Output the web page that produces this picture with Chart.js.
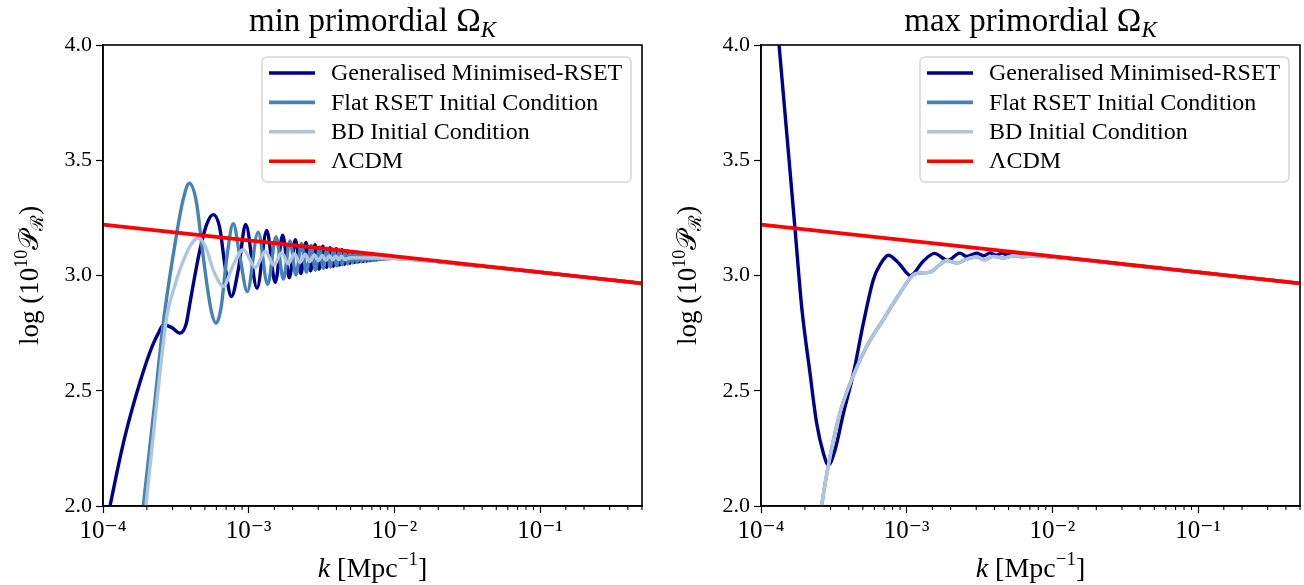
<!DOCTYPE html>
<html>
<head>
<meta charset="utf-8">
<script src="https://cdn.jsdelivr.net/npm/chart.js@4.4.1/dist/chart.umd.min.js"></script>
<style>
  body { margin: 0; background: #fff; }
  .painel { position: absolute; top: 0; width: 652px; height: 585px; }
</style>
</head>
<body>
<div class="painel" style="left:0"><canvas id="graficoMin"></canvas></div>
<div class="painel" style="left:652px"><canvas id="graficoMax"></canvas></div>
<script>
// eixos
const kMin = 1e-4, kMax = 0.5;
const yMin = 2.0, yMax = 4.0, yPasso = 0.5;

const nomes = ['Generalised Minimised-RSET', 'Flat RSET Initial Condition', 'BD Initial Condition', 'ΛCDM'];
const cores = ['#00008b', '#4682b4', '#b0c4de', '#ff0000'];

// LCDM (igual nos dois paineis)
const lcdmK = [1e-4, 0.5];
const lcdmP = [3.221, 2.966];

// painel "min primordial"
const minGmrK = [1.0e-4, 1.117e-4, 1.25e-4, 1.40e-4, 1.60e-4, 1.80e-4, 2.00e-4, 2.20e-4, 2.40e-4, 2.60e-4,
  2.95e-4, 3.37e-4, 3.72e-4, 3.95e-4, 4.27e-4, 4.63e-4, 5.13e-4, 5.71e-4, 6.31e-4, 6.92e-4, 7.60e-4, 8.51e-4, 9.53e-4,
  1.14e-3, 1.33e-3, 1.52e-3, 1.71e-3, 1.90e-3, 2.09e-3, 2.28e-3, 2.47e-3, 2.66e-3, 2.85e-3, 3.04e-3,
  3.23e-3, 3.42e-3, 3.61e-3, 3.80e-3, 3.99e-3, 4.18e-3, 4.37e-3, 4.56e-3, 4.75e-3, 4.94e-3, 5.13e-3,
  5.32e-3, 5.51e-3, 5.70e-3, 5.89e-3, 6.08e-3, 6.27e-3, 6.46e-3, 6.65e-3, 6.84e-3, 7.03e-3, 7.22e-3,
  7.41e-3, 7.60e-3, 7.79e-3, 7.98e-3, 8.17e-3, 8.36e-3, 8.55e-3, 8.74e-3, 8.93e-3, 9.12e-3,
  1.0e-2, 1.5e-2, 2.0e-2, 3.0e-2, 5.0e-2, 1.0e-1, 2.0e-1, 5.0e-1];
const minGmrP = [1.84, 2.00, 2.15, 2.29, 2.43, 2.54, 2.63, 2.70, 2.75, 2.785,
  2.775, 2.75, 2.79, 2.88, 3.00, 3.112, 3.22, 3.264, 3.21, 3.03, 2.909, 3.03, 3.222,
  2.945, 3.195, 2.970, 3.175, 2.990, 3.155, 3.008, 3.143, 3.020, 3.134, 3.028,
  3.127, 3.035, 3.121, 3.040, 3.116, 3.045, 3.112, 3.049, 3.108, 3.053, 3.104,
  3.056, 3.100, 3.059, 3.097, 3.061, 3.094, 3.063, 3.092, 3.065, 3.090, 3.067,
  3.088, 3.068, 3.086, 3.070, 3.085, 3.071, 3.083, 3.072, 3.081, 3.073,
  3.076, 3.068, 3.061, 3.048, 3.034, 3.014, 2.993, 2.966];

const minFlatK = [1.78e-4, 1.89e-4, 2.24e-4, 2.59e-4, 3.21e-4, 3.55e-4, 3.91e-4, 4.37e-4, 4.79e-4, 5.15e-4,
  5.56e-4, 5.97e-4, 6.46e-4, 7.08e-4, 7.83e-4, 8.71e-4, 9.77e-4,
  1.16e-3, 1.35e-3, 1.54e-3, 1.73e-3, 1.92e-3, 2.11e-3, 2.30e-3, 2.49e-3, 2.68e-3, 2.87e-3, 3.06e-3,
  3.25e-3, 3.44e-3, 3.63e-3, 3.82e-3, 4.01e-3, 4.20e-3, 4.39e-3, 4.58e-3, 4.77e-3, 4.96e-3, 5.15e-3,
  5.34e-3, 5.53e-3, 5.72e-3, 5.91e-3, 6.10e-3, 6.29e-3, 6.48e-3, 6.67e-3, 6.86e-3, 7.05e-3, 7.24e-3,
  7.43e-3, 7.62e-3, 7.81e-3, 8.00e-3, 8.19e-3, 8.38e-3, 8.57e-3, 8.76e-3, 8.95e-3, 9.14e-3,
  1.0e-2, 1.5e-2, 2.0e-2, 3.0e-2, 5.0e-2, 1.0e-1, 2.0e-1, 5.0e-1];
const minFlatP = [1.84, 2.00, 2.42, 2.793, 3.184, 3.33, 3.40, 3.32, 3.12, 2.967,
  2.84, 2.793, 2.86, 3.08, 3.225, 3.08, 2.93,
  3.188, 2.962, 3.168, 2.985, 3.150, 3.002, 3.139, 3.014, 3.130, 3.024, 3.124,
  3.031, 3.118, 3.037, 3.114, 3.042, 3.110, 3.046, 3.106, 3.050, 3.102, 3.054,
  3.099, 3.057, 3.096, 3.060, 3.093, 3.062, 3.091, 3.064, 3.089, 3.066, 3.087,
  3.067, 3.085, 3.069, 3.084, 3.070, 3.082, 3.071, 3.080, 3.072, 3.079,
  3.075, 3.067, 3.061, 3.048, 3.034, 3.014, 2.993, 2.966];

const minBdK = [1.86e-4, 1.97e-4, 2.34e-4, 2.74e-4, 3.09e-4, 3.37e-4, 3.98e-4, 4.51e-4, 5.01e-4, 5.75e-4,
  6.70e-4, 7.76e-4, 9.18e-4,
  1.11e-3, 1.30e-3, 1.49e-3, 1.68e-3, 1.87e-3, 2.06e-3, 2.25e-3, 2.44e-3, 2.63e-3, 2.82e-3,
  3.01e-3, 3.20e-3, 3.39e-3, 3.58e-3, 3.77e-3, 3.96e-3, 4.15e-3, 4.34e-3, 4.53e-3,
  5.0e-3, 7.0e-3,
  1.0e-2, 1.5e-2, 2.0e-2, 3.0e-2, 5.0e-2, 1.0e-1, 2.0e-1, 5.0e-1];
const minBdP = [1.85, 2.00, 2.45, 2.822, 2.95, 3.025, 3.13, 3.163, 3.13, 3.02,
  2.953, 3.04, 3.112,
  3.035, 3.104, 3.045, 3.098, 3.052, 3.094, 3.057, 3.091, 3.061, 3.089,
  3.064, 3.087, 3.066, 3.086, 3.068, 3.085, 3.069, 3.084, 3.070,
  3.077, 3.076,
  3.074, 3.067, 3.061, 3.048, 3.034, 3.014, 2.993, 2.966];

// painel "max primordial"
const maxGmrK = [1.0e-4, 1.33e-4, 1.51e-4, 1.71e-4, 1.90e-4, 2.17e-4, 2.41e-4, 2.68e-4, 2.90e-4, 3.22e-4,
  3.67e-4, 4.31e-4, 5.04e-4, 5.90e-4, 6.61e-4, 7.48e-4, 8.91e-4,
  1.06e-3, 1.29e-3, 1.55e-3, 1.91e-3, 2.32e-3, 2.58e-3, 3.02e-3, 3.38e-3, 3.73e-3, 4.10e-3, 4.50e-3,
  4.90e-3, 5.30e-3, 6.50e-3,
  1.0e-2, 1.5e-2, 2.0e-2, 3.0e-2, 5.0e-2, 1.0e-1, 2.0e-1, 5.0e-1];
const maxGmrP = [4.9, 4.0, 3.60, 3.206, 2.866, 2.576, 2.359, 2.229, 2.178, 2.243,
  2.40, 2.576, 2.793, 2.982, 3.05, 3.088, 3.05,
  3.0, 3.06, 3.096, 3.066, 3.097, 3.083, 3.097, 3.086, 3.098, 3.088, 3.097,
  3.089, 3.096, 3.091,
  3.080, 3.070, 3.062, 3.049, 3.034, 3.014, 2.993, 2.966];

const maxBdK = [2.40e-4, 2.61e-4, 2.98e-4, 3.47e-4, 4.08e-4, 5.31e-4, 6.90e-4, 8.99e-4, 1.11e-3, 1.23e-3,
  1.45e-3, 1.69e-3, 1.88e-3, 2.20e-3, 2.58e-3, 3.02e-3, 3.44e-3, 3.93e-3, 4.60e-3, 5.40e-3,
  6.30e-3, 7.60e-3,
  1.0e-2, 1.5e-2, 2.0e-2, 3.0e-2, 5.0e-2, 1.0e-1, 2.0e-1, 5.0e-1];
const maxBdP = [1.78, 2.00, 2.214, 2.40, 2.53, 2.692, 2.808, 2.924, 3.003, 3.011,
  3.015, 3.047, 3.065, 3.054, 3.071, 3.080, 3.068, 3.083, 3.076, 3.086,
  3.081, 3.085,
  3.080, 3.070, 3.062, 3.049, 3.034, 3.014, 2.993, 2.966];

// a curva Flat fica por baixo da BD no painel max
const maxFlatK = maxBdK.slice();
const maxFlatP = maxBdP.slice();

const serif = '"Liberation Serif", "DejaVu Serif", serif';
const sup = {'-': '⁻', '0': '⁰', '1': '¹', '2': '²', '3': '³', '4': '⁴', '5': '⁵'};

function pontos(ks, ps) {
  return ks.map((k, i) => ({ x: k, y: ps[i] }));
}

function ehDecada(v) {
  const l = Math.log10(v);
  return Math.abs(l - Math.round(l)) < 1e-6;
}

// texto com pedacos de fontes diferentes (expoentes, indices)
function larguraTrechos(ctx, trechos) {
  let w = 0;
  trechos.forEach(t => { ctx.font = t.f; w += ctx.measureText(t.t).width; });
  return w;
}
function desenhaTrechos(ctx, trechos, x, y) {
  trechos.forEach(t => {
    ctx.font = t.f;
    ctx.fillText(t.t, x, y + (t.dy || 0));
    x += ctx.measureText(t.t).width;
  });
}

function pluginPainel(titulo) {
  return {
    id: 'extras',
    afterDraw(chart) {
      const ctx = chart.ctx;
      const a = chart.chartArea;
      const sx = chart.scales.x;
      ctx.save();

      // ticks menores do eixo log
      ctx.strokeStyle = '#000';
      ctx.lineWidth = 1.1;
      sx.ticks.forEach((t, i) => {
        if (ehDecada(t.value)) return;
        const px = sx.getPixelForTick(i);
        ctx.beginPath();
        ctx.moveTo(px, a.bottom);
        ctx.lineTo(px, a.bottom + 4);
        ctx.stroke();
      });

      // moldura
      ctx.lineWidth = 1.6;
      ctx.strokeRect(a.left, a.top, a.right - a.left, a.bottom - a.top);

      // legenda
      const lw = 369, lh = 125;
      const lx = a.right - 11 - lw, ly = a.top + 12;
      ctx.beginPath();
      ctx.roundRect(lx, ly, lw, lh, 5);
      ctx.fillStyle = 'rgba(255,255,255,0.8)';
      ctx.fill();
      ctx.strokeStyle = 'rgba(204,204,204,0.8)';
      ctx.lineWidth = 1.5;
      ctx.stroke();
      ctx.textBaseline = 'middle';
      ctx.textAlign = 'left';
      nomes.forEach((nome, i) => {
        const y = ly + 16 + i * 29.4;
        ctx.strokeStyle = cores[i];
        ctx.lineWidth = 3.6;
        ctx.beginPath();
        ctx.moveTo(lx + 7, y);
        ctx.lineTo(lx + 53, y);
        ctx.stroke();
        ctx.fillStyle = '#000';
        ctx.font = '24px ' + serif;
        ctx.fillText(nome, lx + 69, y + 1);
      });

      // titulos
      ctx.fillStyle = '#000';
      ctx.textBaseline = 'alphabetic';
      const cx = (a.left + a.right) / 2;
      const tTitulo = [
        { t: titulo + ' Ω', f: '33px ' + serif },
        { t: 'K', f: 'italic 23px ' + serif, dy: 6 }
      ];
      desenhaTrechos(ctx, tTitulo, cx - larguraTrechos(ctx, tTitulo) / 2, 31);

      const tX = [
        { t: 'k', f: 'italic 28px ' + serif },
        { t: ' [Mpc', f: '28px ' + serif },
        { t: '−1', f: '19px ' + serif, dy: -12 },
        { t: ']', f: '28px ' + serif }
      ];
      desenhaTrechos(ctx, tX, cx - larguraTrechos(ctx, tX) / 2, 577);

      const tY = [
        { t: 'log (10', f: '27px ' + serif },
        { t: '10', f: '18px ' + serif, dy: -11 },
        { t: '𝒫', f: '27px ' + serif },
        { t: 'ℛ', f: '18px ' + serif, dy: 5 },
        { t: ')', f: '27px ' + serif }
      ];
      ctx.translate(a.left - 65, (a.top + a.bottom) / 2);
      ctx.rotate(-Math.PI / 2);
      desenhaTrechos(ctx, tY, -larguraTrechos(ctx, tY) / 2, 0);
      ctx.restore();
    }
  };
}

function criarGrafico(id, titulo, series, padEsq, padDir) {
  const datasets = series.map((s, i) => ({
    label: nomes[i],
    data: pontos(s[0], s[1]),
    borderColor: cores[i],
    borderWidth: i === 3 ? 3.8 : 3.4,
    pointRadius: 0,
    cubicInterpolationMode: 'monotone',
    order: 3 - i
  }));

  new Chart(document.getElementById(id), {
    type: 'line',
    data: { datasets },
    options: {
      responsive: true,
      maintainAspectRatio: false,
      animation: false,
      layout: { padding: { left: padEsq, right: padDir, top: 45, bottom: 29 } },
      plugins: { legend: { display: false }, tooltip: { enabled: false } },
      scales: {
        x: {
          type: 'logarithmic',
          min: kMin,
          max: kMax,
          afterFit: s => { s.height = 50; },
          border: { color: '#000', width: 1.6 },
          grid: {
            drawOnChartArea: false,
            tickLength: 7,
            tickWidth: 1.2,
            tickColor: c => (c.tick && ehDecada(c.tick.value)) ? '#000' : 'rgba(0,0,0,0)'
          },
          ticks: {
            autoSkip: false,
            maxRotation: 0,
            padding: 3,
            color: '#000',
            font: { family: serif, size: 25 },
            callback: v => {
              if (!ehDecada(v)) return '';
              const e = String(Math.round(Math.log10(v)));
              return '10' + e.split('').map(c => sup[c]).join('');
            }
          }
        },
        y: {
          min: yMin,
          max: yMax,
          afterFit: s => { s.width = 60; },
          border: { color: '#000', width: 1.6 },
          grid: { drawOnChartArea: false, tickLength: 7, tickWidth: 1.2, tickColor: '#000' },
          ticks: {
            stepSize: yPasso,
            padding: 4,
            color: '#000',
            font: { family: serif, size: 22 },
            callback: v => v.toFixed(1)
          }
        }
      }
    },
    plugins: [pluginPainel(titulo)]
  });
}

criarGrafico('graficoMin', 'min primordial', [
  [minGmrK, minGmrP], [minFlatK, minFlatP], [minBdK, minBdP], [lcdmK, lcdmP]
], 43, 10);

criarGrafico('graficoMax', 'max primordial', [
  [maxGmrK, maxGmrP], [maxFlatK, maxFlatP], [maxBdK, maxBdP], [lcdmK, lcdmP]
], 49, 4);
</script>
</body>
</html>
